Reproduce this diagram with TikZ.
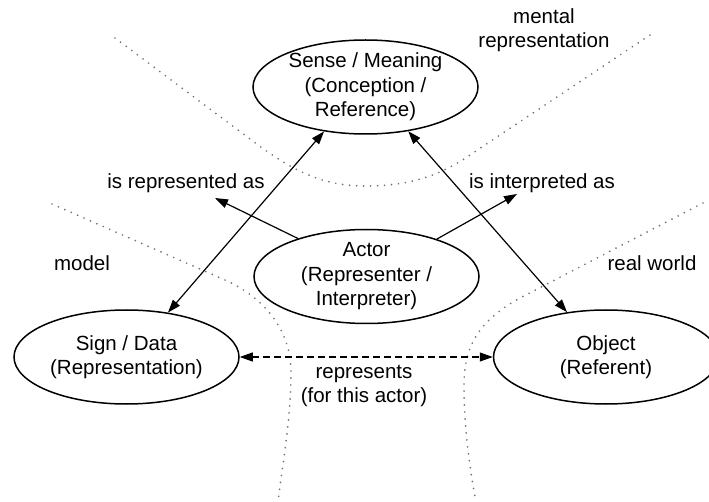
\documentclass[tikz,border=0pt]{standalone}
\usepackage{fontspec}
\setmainfont{Liberation Sans}
\usetikzlibrary{arrows.meta,shapes.geometric}
\begin{document}
\begin{tikzpicture}[x=1pt,y=-1pt,
  txt/.style={font=\fontsize{20.5}{24.5}\selectfont, align=center, inner sep=0pt},
  concept/.style={draw, ellipse, line width=1.5pt, minimum width=225pt,
                  minimum height=94pt, inner sep=0pt},
  link/.style={line width=1.2pt, {Triangle[length=13pt,width=9pt]}-{Triangle[length=13pt,width=9pt]}},
  toward/.style={line width=1.2pt, -{Triangle[length=13pt,width=9pt]}},
  boundary/.style={black!55, line width=1.9pt, line cap=round, dash pattern=on 0pt off 7pt}]
\useasboundingbox (0,0) rectangle (709,502);

% region boundaries
\draw[boundary] (115,38) -- (250,139)
  .. controls (290,169) and (320,186) .. (365,186)
  .. controls (410,186) and (440,176) .. (473,153) -- (650,35);
\draw[boundary] (52,204) -- (225,280)
  .. controls (265,298) and (290,330) .. (291,370)
  .. controls (291,420) and (283,460) .. (278,502);
\draw[boundary] (703,203) -- (520,298)
  .. controls (480,320) and (464,345) .. (464,385)
  .. controls (464,430) and (470,470) .. (476,502);

% region names
\node[txt] (mental) at (544,30) {mental\\representation};
\node[txt] (model) at (82,263) {model};
\node[txt] (real) at (652,263) {real world};

% the four concepts
\node[concept, label={[txt]center:Sense / Meaning\\(Conception /\\Reference)}] (sense) at (365.5,87) {};
\node[concept, label={[txt]center:Actor\\(Representer /\\Interpreter)}] (actor) at (366.5,276.5) {};
\node[concept, label={[txt]center:Sign / Data\\(Representation)}] (sign) at (126.5,357) {};
\node[concept, label={[txt]center:Object\\(Referent)}] (object) at (606,357) {};

% relation labels
\node[txt] (repLabel) at (186,183) {is represented as};
\node[txt] (intLabel) at (542,183) {is interpreted as};
\node[txt] (repsLabel) at (364,386) {represents\\(for this actor)};
\coordinate (repTip) at (215,198);
\coordinate (intTip) at (517,194);

% relations
\draw[link] (sign.47.8) -- (sense.227.8);
\draw[link] (sense.314.7) -- (object.131.3);
\draw[toward] (actor.151.5) -- (repTip);
\draw[toward] (actor.28) -- (intTip);
\draw[link, dash pattern=on 7pt off 4pt] (sign.east) -- (object.west);
\end{tikzpicture}
\end{document}
